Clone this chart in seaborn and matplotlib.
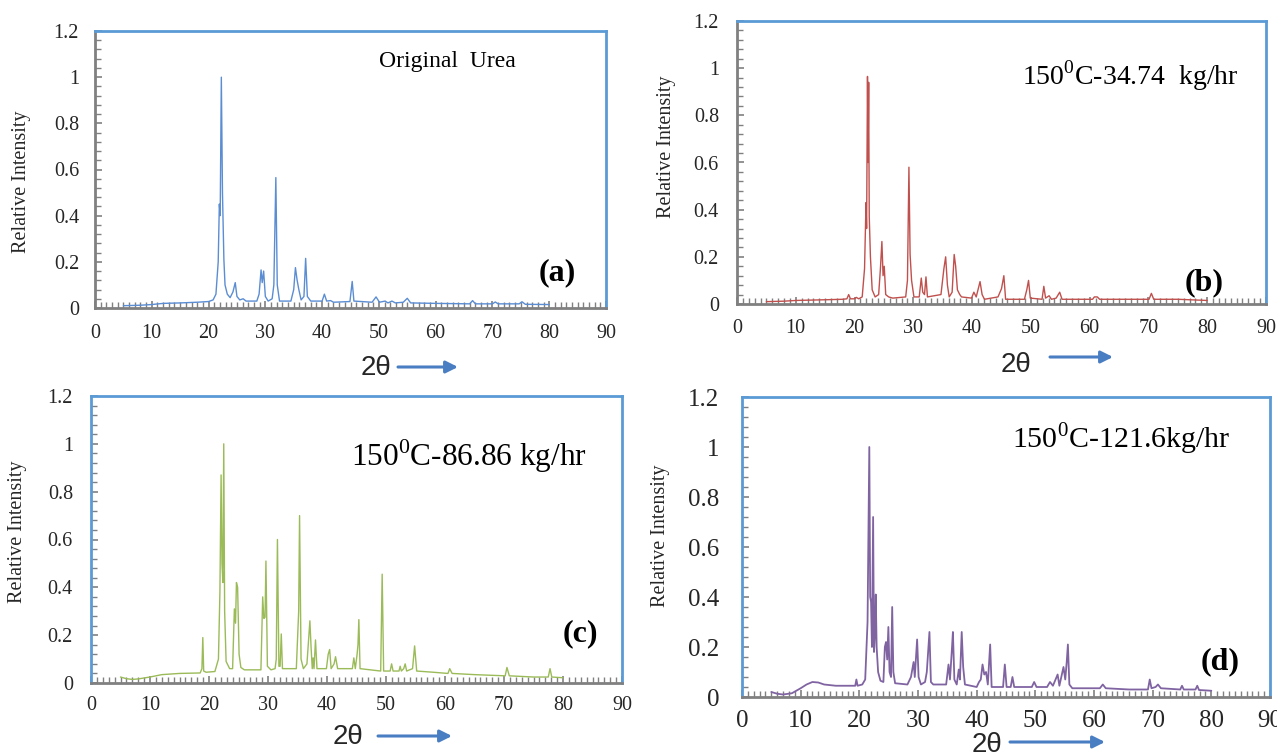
import numpy as np
import pandas as pd
import matplotlib
matplotlib.use("Agg")
import matplotlib.pyplot as plt
from matplotlib.ticker import MultipleLocator, FuncFormatter
import seaborn as sns

# ---------------- data (vertices) ----------------
a_x = [5, 8, 10, 12, 15, 18, 20, 20.8, 21.3, 21.7, 21.9, 22.05, 22.25, 22.45, 22.7, 22.9, 23.3, 23.8,
       24.3, 24.7, 25.0, 25.5, 26.1, 26.6, 28.5, 28.9, 29.25, 29.45, 29.7, 30.0, 30.5, 31.2, 31.5, 31.85,
       32.1, 32.5, 34.5, 35.0, 35.3, 35.6, 35.9, 36.3, 36.8, 37.1, 37.4, 38, 40.0, 40.4, 40.8, 41.5, 42,
       44.9, 45.3, 45.6, 48.8, 49.5, 50.1, 51.1, 51.6, 52.3, 52.9, 54.3, 55, 55.6, 60, 66.0, 66.5, 67.0,
       70, 70.5, 71, 74.7, 75.2, 75.8, 80]
a_y = [0.010, 0.012, 0.015, 0.02, 0.022, 0.025, 0.028, 0.035, 0.06, 0.2, 0.45, 0.40, 1.0, 0.5, 0.21, 0.1,
       0.06, 0.045, 0.07, 0.11, 0.05, 0.035, 0.04, 0.03, 0.03, 0.06, 0.165, 0.11, 0.16, 0.05, 0.03, 0.04,
       0.1, 0.565, 0.1, 0.03, 0.03, 0.08, 0.175, 0.12, 0.08, 0.035, 0.05, 0.215, 0.05, 0.03, 0.03, 0.06,
       0.03, 0.032, 0.025, 0.028, 0.115, 0.03, 0.025, 0.048, 0.025, 0.03, 0.022, 0.03, 0.022, 0.025,
       0.042, 0.022, 0.02, 0.018, 0.032, 0.018, 0.018, 0.026, 0.018, 0.018, 0.027, 0.016, 0.015]

b_x = [5, 8, 10, 15, 18, 18.7, 19.0, 19.3, 20.0, 20.3, 20.7, 21.3, 21.7, 21.95, 22.05, 22.2, 22.3, 22.4,
       22.5, 22.7, 23.0, 23.5, 24.1, 24.4, 24.65, 24.85, 25.05, 25.3, 25.8, 26.5, 28.7, 29.0, 29.25, 29.45,
       29.7, 30.1, 31.0, 31.35, 31.6, 31.9, 32.15, 32.4, 34.7, 35.2, 35.5, 35.8, 36.1, 36.6, 36.95, 37.2,
       37.5, 37.9, 38.2, 39.9, 40.3, 40.7, 41.1, 41.35, 41.7, 42.1, 44.4, 45.0, 45.4, 45.7, 48.9, 49.3,
       49.6, 49.9, 51.9, 52.2, 52.5, 53.1, 53.5, 54.3, 54.9, 55.3, 60.5, 60.8, 61.3, 61.7, 70.1, 70.5,
       70.9, 75, 80]
b_y = [0.01, 0.012, 0.015, 0.018, 0.02, 0.022, 0.04, 0.022, 0.022, 0.028, 0.022, 0.03, 0.15, 0.43, 0.32,
       0.965, 0.6, 0.94, 0.37, 0.2, 0.06, 0.03, 0.04, 0.15, 0.265, 0.12, 0.16, 0.04, 0.03, 0.025, 0.03, 0.1,
       0.58, 0.21, 0.1, 0.03, 0.03, 0.11, 0.05, 0.04, 0.115, 0.03, 0.04, 0.15, 0.2, 0.08, 0.03, 0.05, 0.21,
       0.16, 0.06, 0.04, 0.03, 0.025, 0.05, 0.03, 0.07, 0.095, 0.04, 0.02, 0.03, 0.065, 0.12, 0.02, 0.02,
       0.06, 0.1, 0.025, 0.02, 0.075, 0.025, 0.035, 0.02, 0.025, 0.05, 0.02, 0.02, 0.03, 0.03, 0.02, 0.02,
       0.045, 0.02, 0.02, 0.015]

c_x = [5, 6, 7, 8, 10, 12, 15, 18.5, 18.8, 18.95, 19.1, 19.5, 21, 21.6, 21.85, 22.05, 22.2, 22.35, 22.5,
       22.65, 22.9, 23.5, 24.0, 24.3, 24.5, 24.65, 24.85, 25.1, 25.4, 26, 28.8, 29.1, 29.3, 29.5, 29.65,
       29.9, 30.5, 31.2, 31.4, 31.6, 31.85, 32.05, 32.25, 32.45, 34.8, 35.2, 35.35, 35.6, 36.0, 36.6, 36.85,
       37.1, 37.3, 37.5, 37.65, 37.8, 38.05, 38.3, 39.9, 40.2, 40.45, 40.7, 41.2, 41.45, 41.8, 44.3, 44.55,
       44.8, 45.1, 45.25, 45.4, 45.6, 49.1, 49.35, 49.6, 50.7, 50.95, 51.2, 52.2, 52.4, 52.6, 53.0, 53.25,
       53.5, 54.5, 54.85, 55.2, 58, 60.5, 60.8, 61.2, 65, 70.2, 70.5, 70.9, 75, 77.5, 77.8, 78.1, 80]
c_y = [0.025, 0.018, 0.015, 0.017, 0.025, 0.035, 0.04, 0.042, 0.06, 0.19, 0.05, 0.045, 0.048, 0.1, 0.38,
       0.87, 0.5, 0.42, 1.0, 0.3, 0.09, 0.06, 0.06, 0.31, 0.25, 0.42, 0.40, 0.12, 0.065, 0.055, 0.055, 0.36,
       0.27, 0.275, 0.51, 0.07, 0.055, 0.06, 0.1, 0.6, 0.07, 0.07, 0.205, 0.06, 0.06, 0.3, 0.7, 0.1, 0.06,
       0.08, 0.17, 0.26, 0.15, 0.06, 0.105, 0.06, 0.18, 0.06, 0.06, 0.12, 0.14, 0.06, 0.08, 0.11, 0.06,
       0.06, 0.105, 0.06, 0.12, 0.16, 0.265, 0.06, 0.05, 0.455, 0.05, 0.05, 0.08, 0.05, 0.05, 0.07, 0.05,
       0.06, 0.08, 0.05, 0.06, 0.155, 0.05, 0.045, 0.04, 0.06, 0.04, 0.035, 0.03, 0.065, 0.03, 0.025,
       0.025, 0.06, 0.025, 0.022]

d_x = [5, 6, 7, 8.5, 10, 11, 12, 13, 14, 16, 18, 19.3, 19.5, 19.7, 20.5, 21.0, 21.4, 21.7, 21.85, 22.0,
       22.15, 22.35, 22.5, 22.65, 22.8, 22.95, 23.2, 23.6, 24.1, 24.35, 24.55, 24.75, 24.95, 25.15, 25.4,
       25.6, 25.8, 26.1, 28.2, 28.8, 29.25, 29.45, 29.85, 30.1, 30.5, 31.2, 31.5, 31.95, 32.2, 32.6, 34.8,
       35.2, 35.45, 35.75, 35.95, 36.2, 36.6, 36.95, 37.15, 37.45, 37.7, 38.0, 40.0, 40.4, 40.7, 41.0, 41.3,
       41.6, 41.9, 42.3, 42.55, 44.5, 44.8, 45.1, 45.8, 46.1, 46.4, 49.4, 49.8, 50.2, 52.0, 52.5, 53.0, 53.8,
       54.1, 54.8, 55.1, 55.35, 55.55, 55.8, 56.3, 61.0, 61.5, 62.0, 66, 69.2, 69.5, 69.8, 70.5, 70.9, 71.4,
       74.7, 75.0, 75.3, 77.3, 77.6, 77.9, 80]
d_y = [0.02, 0.013, 0.01, 0.015, 0.035, 0.05, 0.06, 0.058, 0.05, 0.045, 0.045, 0.045, 0.07, 0.045, 0.05,
       0.07, 0.3, 1.0, 0.4, 0.38, 0.2, 0.72, 0.18, 0.25, 0.41, 0.2, 0.1, 0.065, 0.06, 0.2, 0.22, 0.15, 0.28,
       0.1, 0.08, 0.36, 0.1, 0.055, 0.05, 0.08, 0.14, 0.08, 0.23, 0.08, 0.05, 0.06, 0.1, 0.26, 0.06, 0.05,
       0.05, 0.13, 0.07, 0.18, 0.26, 0.07, 0.05, 0.11, 0.07, 0.26, 0.12, 0.05, 0.04, 0.06, 0.07, 0.13, 0.09,
       0.1, 0.05, 0.21, 0.04, 0.04, 0.13, 0.04, 0.04, 0.08, 0.04, 0.04, 0.06, 0.04, 0.04, 0.06, 0.045, 0.09,
       0.045, 0.12, 0.07, 0.14, 0.21, 0.05, 0.035, 0.035, 0.05, 0.035, 0.03, 0.03, 0.07, 0.035, 0.04, 0.05,
       0.035, 0.03, 0.045, 0.03, 0.03, 0.045, 0.028, 0.025]

x_ticks = [0, 10, 20, 30, 40, 50, 60, 70, 80, 90]
y_ticks = [0, 0.2, 0.4, 0.6, 0.8, 1.0, 1.2]
titles = ["Original  Urea", "150$^{\\mathrm{0}}$C-34.74  kg/hr",
          "150$^{\\mathrm{0}}$C-86.86 kg/hr", "150$^{\\mathrm{0}}$C-121.6kg/hr"]
letters = ["(a)", "(b)", "(c)", "(d)"]
ylabel = "Relative Intensity"
xlabel = "2θ"

# ---------------- style ----------------
sns.set_theme(style="white")
plt.rcParams["font.family"] = ["Liberation Serif", "DejaVu Serif"]
plt.rcParams["mathtext.fontset"] = "custom"
plt.rcParams["mathtext.rm"] = "Liberation Serif"

W, H = 1277, 756
fig = plt.figure(figsize=(W / 100, H / 100), dpi=100)
fig.patch.set_facecolor("white")


def px_axes(l, r, t, b):
    return fig.add_axes([l / W, 1 - b / H, (r - l) / W, (b - t) / H])


panels = [
    dict(box=(95, 606, 31, 308), x=a_x, y=a_y, color="#5B8DD3", left="#808080", lw=1.0,
         tfs=14.5, ypad=11.5, xpad=11.5,
         title_xy=(50, 1.07), tfs2=17, let_xy=(81.5, 0.155), ylab=(22, 182), ylfs=14.5,
         two=(376, 368), arrow=(398, 458, 367)),
    dict(box=(737, 1266, 21, 304), x=b_x, y=b_y, color="#C0504D", left="#808080", lw=1.0,
         tfs=14.5, ypad=13, xpad=10.5,
         title_xy=(48.5, 0.97), tfs2=20, let_xy=(79.5, 0.09), ylab=(666, 147), ylfs=14.5,
         two=(1016, 365), arrow=(1050, 1113, 357)),
    dict(box=(91, 622, 396, 683), x=c_x, y=c_y, color="#9BBB59", left="#5B9BD5", lw=1.0,
         tfs=14.5, ypad=13, xpad=9.5,
         title_xy=(44, 0.95), tfs2=22.5, let_xy=(83, 0.205), ylab=(18, 532), ylfs=14.5,
         two=(348, 737), arrow=(378, 452, 736)),
    dict(box=(742, 1270, 397, 697), x=d_x, y=d_y, color="#8064A2", left="#5B9BD5", lw=1.3,
         tfs=18, ypad=16.5, xpad=9.5,
         title_xy=(46, 1.035), tfs2=21.5, let_xy=(81.5, 0.14), ylab=(661, 536), ylfs=14.5,
         two=(987, 745), arrow=(1010, 1105, 742)),
]

for i, p in enumerate(panels):
    ax = px_axes(*p["box"])
    df = pd.DataFrame({"two_theta": p["x"], "intensity": p["y"]})
    sns.lineplot(data=df, x="two_theta", y="intensity", ax=ax, color=p["color"], lw=p["lw"],
                 estimator=None, sort=False, legend=False)
    ax.set_xlim(0, 90)
    ax.set_ylim(0, 1.2)
    ax.set_xticks(x_ticks)
    ax.set_yticks(y_ticks)
    ax.xaxis.set_minor_locator(MultipleLocator(1))
    ax.yaxis.set_minor_locator(MultipleLocator(0.04))
    ax.yaxis.set_major_formatter(FuncFormatter(lambda v, pos: f"{v:g}"))
    ax.set_xlabel("")
    ax.set_ylabel("")
    ax.tick_params(which="both", direction="in", color="#808080", bottom=True, left=True,
                   top=False, right=False)
    ax.tick_params(which="major", length=5, width=1.2, labelsize=p["tfs"])
    ax.tick_params(axis="y", which="major", pad=p["ypad"])
    ax.tick_params(axis="x", which="major", pad=p["xpad"])
    ax.tick_params(which="minor", length=4, width=1.0)
    for s in ["top", "right"]:
        ax.spines[s].set_color("#5B9BD5")
        ax.spines[s].set_linewidth(2.0)
    ax.spines["left"].set_color(p["left"])
    ax.spines["left"].set_linewidth(2.0)
    ax.spines["bottom"].set_color("#808080")
    ax.spines["bottom"].set_linewidth(2.0)
    ax.grid(False)
    ax.text(p["title_xy"][0], p["title_xy"][1], titles[i], fontsize=p["tfs2"], ha="left",
            va="center", color="black")
    ax.text(p["let_xy"][0], p["let_xy"][1], letters[i], fontsize=23, fontweight="bold",
            ha="center", va="center", color="black")
    fig.text(p["ylab"][0] / W, 1 - p["ylab"][1] / H, ylabel, rotation=90, fontsize=p["ylfs"],
             ha="center", va="center")
    fig.text(p["two"][0] / W, 1 - p["two"][1] / H, xlabel, fontsize=20, ha="center",
             va="center", family=["Liberation Sans", "DejaVu Sans"])
    x0, x1, yy = p["arrow"]
    ax.annotate("", xy=(x1, H - yy), xytext=(x0, H - yy), xycoords="figure pixels",
                textcoords="figure pixels",
                arrowprops=dict(arrowstyle="-|>", color="#4A7EC2", lw=2.2, mutation_scale=18,
                                shrinkA=0, shrinkB=0))

fig.savefig("out.png", dpi=100)
